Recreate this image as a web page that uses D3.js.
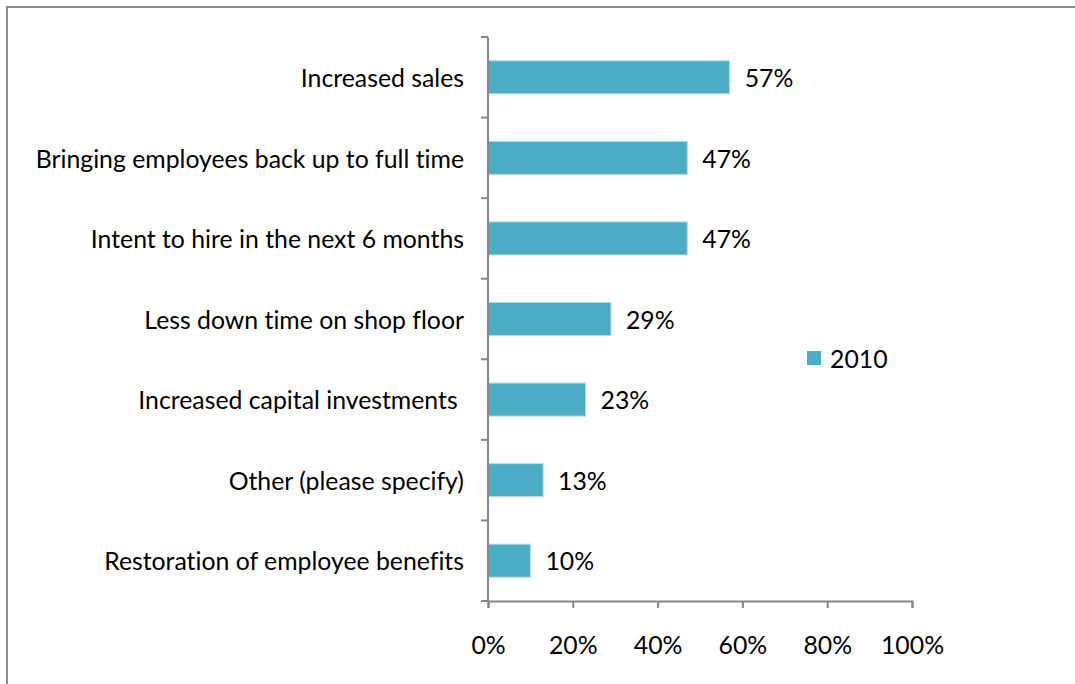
<!DOCTYPE html>
<html>
<head>
<meta charset="utf-8">
<script src="https://cdn.jsdelivr.net/npm/d3@7/dist/d3.min.js"></script>
<style>
  html, body { margin: 0; padding: 0; background: #fff; }
  svg { display: block; }
  text { font-family: Lato, "Open Sans", sans-serif; fill: #000; white-space: pre; font-variant-ligatures: none; }
</style>
</head>
<body>
<div id="chart"></div>
<script>
// Survey responses: signs of recovery, 2010
const categories = [
  "Increased sales",
  "Bringing employees back up to full time",
  "Intent to hire in the next 6 months",
  "Less down time on shop floor",
  "Increased capital investments ",
  "Other (please specify)",
  "Restoration of employee benefits"
];
const values2010 = [57, 47, 47, 29, 23, 13, 10];
const xTicks = [0, 20, 40, 60, 80, 100];
const seriesName = "2010";

const W = 1075, H = 684;
const margin = { top: 37, left: 488, right: 163, bottom: 83 };
const color = "#4BACC6";
const axisColor = "#868686";

const svg = d3.select("#chart").append("svg")
  .attr("width", W).attr("height", H);

// outer chart frame
svg.append("rect")
  .attr("x", 7).attr("y", 7)
  .attr("width", W + 10).attr("height", H + 10)
  .attr("fill", "none").attr("stroke", "#8c8c8c").attr("stroke-width", 2);

const x = d3.scaleLinear().domain([0, 100])
  .range([margin.left, W - margin.right]);
const y = d3.scaleBand().domain(categories)
  .range([margin.top, H - margin.bottom])
  .paddingInner(0.59).paddingOuter(0.295);

const fontSize = 24.8;

// bars
svg.append("g").selectAll("rect")
  .data(categories)
  .join("rect")
  .attr("x", x(0))
  .attr("y", d => y(d))
  .attr("width", (d, i) => x(values2010[i]) - x(0))
  .attr("height", y.bandwidth())
  .attr("fill", color)
  .attr("stroke", "#b5dbe6").attr("stroke-width", 1);

// value labels
svg.append("g").selectAll("text")
  .data(categories)
  .join("text")
  .attr("x", (d, i) => x(values2010[i]) + 15)
  .attr("y", d => y(d) + y.bandwidth() / 2 + 1)
  .attr("dy", "0.35em")
  .attr("font-size", fontSize)
  .text((d, i) => values2010[i] + "%");

// category axis
const yAxisBand = d3.scaleBand().domain(categories)
  .range([margin.top, H - margin.bottom]);
const gy = svg.append("g");
gy.append("line")
  .attr("x1", x(0)).attr("x2", x(0))
  .attr("y1", margin.top).attr("y2", H - margin.bottom)
  .attr("stroke", axisColor).attr("stroke-width", 2);
const boundaries = categories.map(c => yAxisBand(c)).concat([H - margin.bottom]);
gy.selectAll("line.tick")
  .data(boundaries)
  .join("line").attr("class", "tick")
  .attr("x1", x(0) - 7).attr("x2", x(0))
  .attr("y1", d => d).attr("y2", d => d)
  .attr("stroke", axisColor).attr("stroke-width", 2);
gy.selectAll("text")
  .data(categories)
  .join("text")
  .attr("x", x(0) - 24)
  .attr("y", d => yAxisBand(d) + yAxisBand.bandwidth() / 2 + 1)
  .attr("dy", "0.35em")
  .attr("text-anchor", "end")
  .attr("font-size", fontSize)
  .text(d => d);

// value axis
const gx = svg.append("g")
  .attr("transform", `translate(0,${H - margin.bottom})`)
  .call(d3.axisBottom(x).tickValues(xTicks).tickSize(7).tickPadding(28)
    .tickFormat(d => d + "%"));
gx.select(".domain").attr("stroke", axisColor).attr("stroke-width", 2);
gx.selectAll(".tick line").attr("stroke", axisColor).attr("stroke-width", 2);
gx.selectAll(".tick text")
  .attr("font-size", fontSize)
  .attr("font-family", "Lato, 'Open Sans', sans-serif")
  .attr("fill", "#000");

// legend
const lg = svg.append("g").attr("transform", "translate(807,351)");
lg.append("rect").attr("width", 14).attr("height", 14).attr("fill", color);
lg.append("text").attr("x", 23).attr("y", 8).attr("dy", "0.35em")
  .attr("font-size", fontSize).text(seriesName);
</script>
</body>
</html>
